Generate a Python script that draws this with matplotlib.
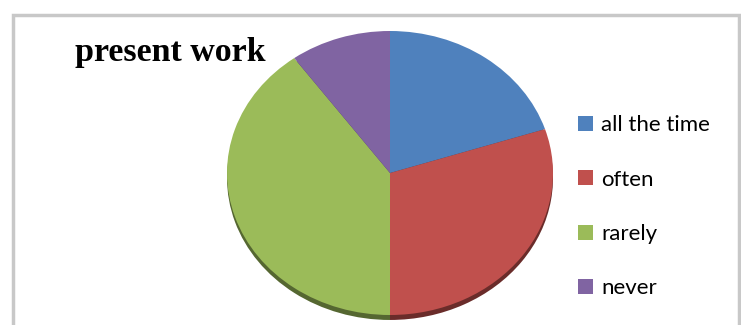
import matplotlib.pyplot as plt
from matplotlib.patches import Rectangle
from matplotlib.colors import to_rgb
import numpy as np

labels = ['all the time', 'often', 'rarely', 'never']
values = [20, 30, 40, 10]
colors = ['#4F81BD', '#C0504D', '#9BBB59', '#8064A2']

W, H = 741, 325
fig = plt.figure(figsize=(W / 100, H / 100), dpi=100)

# outer chart border
fig.patches.append(Rectangle((13 / W, -0.05), (739 - 13) / W, (H - 15) / H + 0.05,
                             transform=fig.transFigure, fill=False,
                             edgecolor='#C8C8C8', linewidth=2.5))

# pie area: slightly squashed ellipse, centre (390, 173), rx 163, ry 142
cx, cy, rx, ry = 390, 173, 163, 142
ax = fig.add_axes([(cx - rx) / W, (H - cy - ry) / H, 2 * rx / W, 2 * ry / H])

# darker copy underneath for the 3D side
dark = [tuple(c * 0.55 for c in to_rgb(col)) for col in colors]
ax.pie(values, colors=dark, startangle=90, counterclock=False,
       center=(0, -0.035), radius=1.0,
       wedgeprops=dict(linewidth=0, clip_on=False))
wedges, _ = ax.pie(values, colors=colors, startangle=90, counterclock=False,
                   radius=1.0, wedgeprops=dict(linewidth=0))
ax.set_aspect('auto')
ax.set_xlim(-1, 1)
ax.set_ylim(-1, 1)
ax.axis('off')

fig.text(75 / W, 1 - 53 / H, 'present work', family='Liberation Serif',
         fontweight='bold', fontsize=24.5, va='center', ha='left')

fig.legend(wedges, labels, loc='upper left', bbox_to_anchor=(567 / W, 1 - 104 / H),
           frameon=False, prop=dict(family='Lato', size=16),
           handlelength=0.65, handleheight=0.65, handletextpad=0.4,
           labelspacing=1.55, borderpad=0)

fig.savefig('out.png', dpi=100)
